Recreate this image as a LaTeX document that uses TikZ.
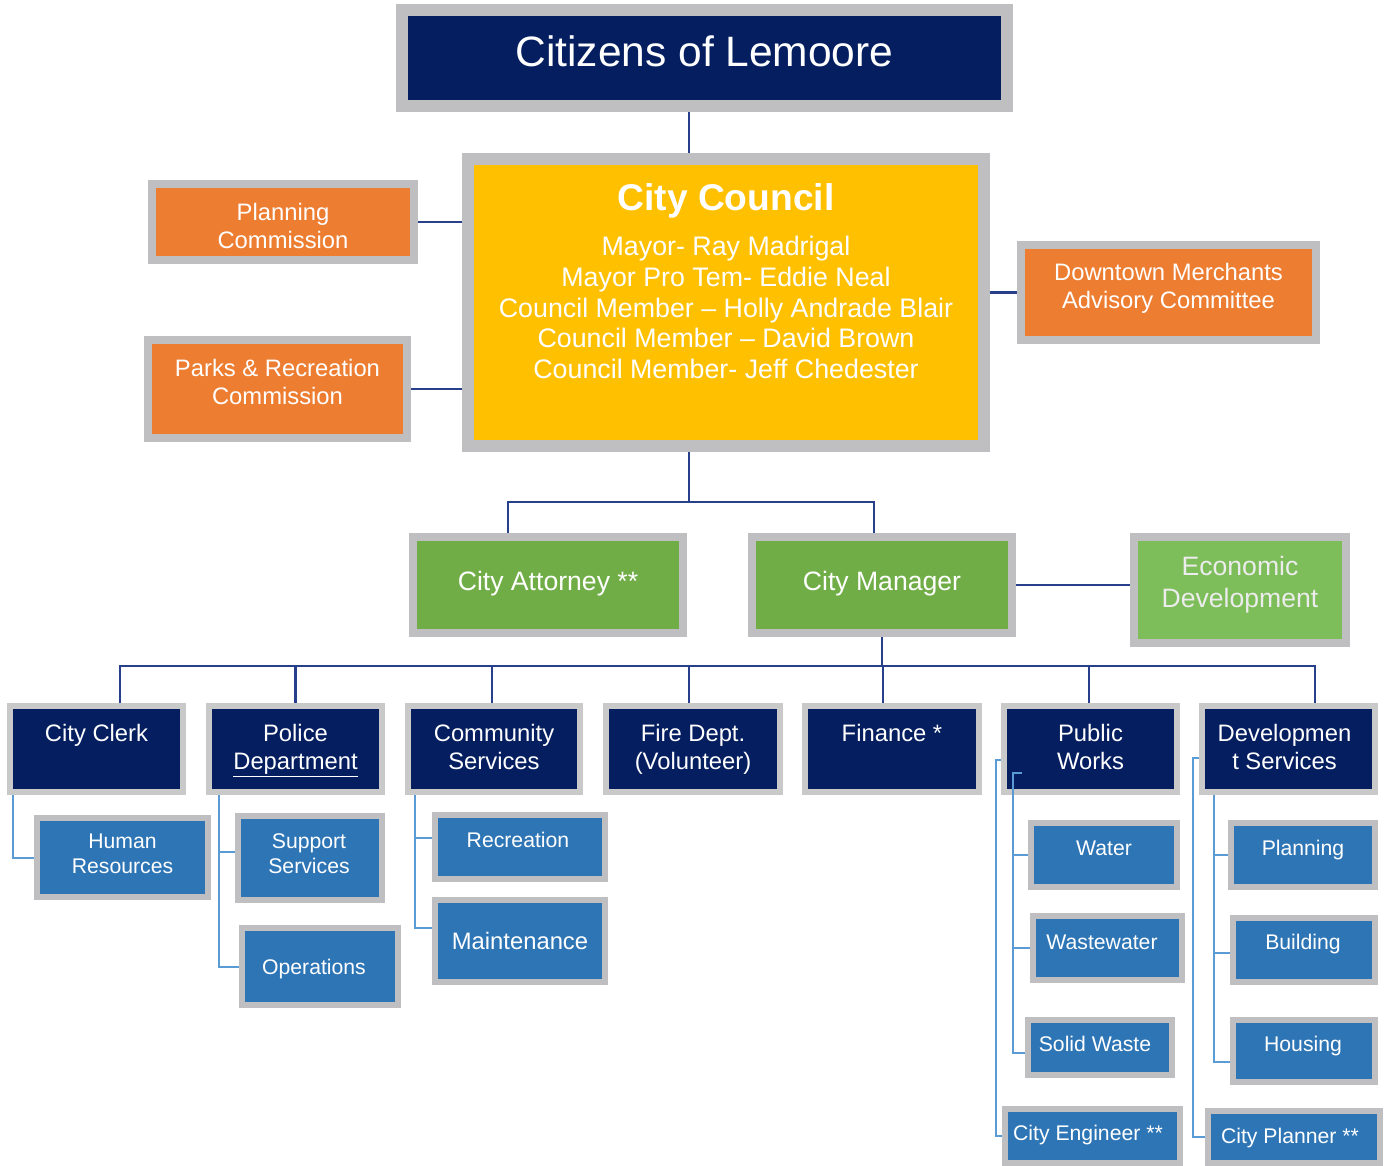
\documentclass[tikz,border=0pt]{standalone}
\usepackage{fontspec}
\setmainfont{Liberation Sans}
\usetikzlibrary{calc}
\definecolor{frame}{RGB}{191,191,193}
\definecolor{navy}{RGB}{4,30,96}
\definecolor{gold}{RGB}{255,192,0}
\definecolor{orng}{RGB}{237,125,49}
\definecolor{grn}{RGB}{112,173,71}
\definecolor{lgrn}{RGB}{125,190,90}
\definecolor{mblue}{RGB}{46,117,182}
\definecolor{lineblue}{RGB}{40,64,140}
\definecolor{sublineblue}{RGB}{91,155,213}
\definecolor{paletext}{RGB}{236,236,236}
\newcommand\obox[9]{\node[box,#1,sz={#5}{#6}{#7},label={[#8]center:{#9}}] (#2) at (#3,#4) {};}
\begin{document}
\begin{tikzpicture}[x=0.5pt,y=-0.5pt,
  box/.style={draw=frame, inner sep=0pt, text=white},
  sz/.style n args={3}{line width=#3*0.5pt, minimum width=(#1-#3)*0.5pt, minimum height=(#2-#3)*0.5pt},
  lt/.style={text=white, align=center, inner sep=0pt},
  comf/.style={lt, font=\fontsize{11.9}{14}\selectfont},
  rowf/.style={lt, font=\fontsize{11.9}{14}\selectfont},
  subf/.style={lt, font=\fontsize{10.6}{12.5}\selectfont},
  mainline/.style={draw=lineblue, line width=1.3pt},
  subline/.style={draw=sublineblue, line width=1pt},
  rowbox/.style={fill=navy, draw=frame!85!white},
  subbox/.style={fill=mblue}
]
\useasboundingbox[fill=white] (0,0) rectangle (1388,1166);
\coordinate (stem) at (689,0);

% top level
\obox{fill=navy}{citizens}{704.5}{58}{617}{108}{12}{lt, font=\fontsize{21.25}{25}\selectfont, yshift=3.5pt}{Citizens of Lemoore}
\node[box, fill=gold, sz={528}{299}{12},
  label={[lt, font=\bfseries\fontsize{18.6}{22}\selectfont, yshift=51pt]center:City Council},
  label={[lt, font=\fontsize{13.4}{15.4}\selectfont, yshift=-2.5pt]center:{Mayor- Ray Madrigal\\Mayor Pro Tem- Eddie Neal\\Council Member – Holly Andrade Blair\\Council Member – David Brown\\Council Member- Jeff Chedester}}]
  (council) at (726,302.5) {};

\obox{fill=orng}{plan}{283}{222}{270}{84}{8}{comf, yshift=-2pt}{Planning\\Commission}
\obox{fill=orng}{parks}{277.5}{389}{267}{106}{8}{comf, yshift=3.5pt}{Parks \& Recreation\\Commission}
\obox{fill=orng}{downtown}{1168.5}{292.5}{303}{103}{8}{comf, yshift=2pt}{Downtown Merchants\\Advisory Committee}

\obox{fill=grn}{attorney}{548}{585}{278}{104}{8}{lt, font=\fontsize{13.3}{16}\selectfont, yshift=0.5pt}{City Attorney **}
\obox{fill=grn}{manager}{882}{585}{268}{104}{8}{lt, font=\fontsize{13.3}{16}\selectfont, yshift=0.5pt}{City Manager}
\obox{fill=lgrn}{econ}{1240}{590}{220}{114}{8}{lt, text=paletext, font=\fontsize{13.3}{16}\selectfont, yshift=2.5pt}{Economic\\Development}

% department row
\obox{rowbox}{clerk}{96.5}{749}{179}{92}{6}{rowf, yshift=7pt}{City Clerk}
\obox{rowbox}{police}{295.5}{749}{179}{92}{6}{rowf, yshift=-1pt}{Police\\\underline{Department}}
\obox{rowbox}{cs}{494}{749}{178}{92}{6}{rowf, yshift=1pt}{Community\\Services}
\obox{rowbox}{fire}{693}{749}{180}{92}{6}{rowf, yshift=0pt}{Fire Dept.\\(Volunteer)}
\obox{rowbox}{finance}{892}{749}{180}{92}{6}{rowf, yshift=8pt}{Finance *}
\obox{rowbox}{pw}{1090.5}{749}{179}{92}{6}{rowf, yshift=1pt}{Public\\Works}
\obox{rowbox}{ds}{1288.5}{749}{179}{92}{6}{rowf, yshift=1pt, xshift=-2pt}{Developmen\\t Services}

% sub units
\obox{subbox}{hr}{122.5}{857.5}{177}{85}{6}{subf, yshift=2pt}{Human\\Resources}
\obox{subbox}{support}{310}{858}{150}{90}{6}{subf, yshift=2.25pt, xshift=-0.5pt}{Support\\Services}
\obox{subbox}{ops}{320}{966.5}{162}{83}{6}{subf, xshift=-3pt, yshift=-1.5pt}{Operations}
\obox{subbox}{rec}{520}{847}{176}{70}{6}{subf, yshift=3.5pt, xshift=-1pt}{Recreation}
\obox{subbox}{maint}{520}{941}{176}{88}{6}{lt, font=\fontsize{11.9}{14}\selectfont}{Maintenance}
\obox{subbox}{water}{1104}{855}{152}{70}{6}{subf, yshift=3.5pt}{Water}
\obox{subbox}{waste}{1107.5}{948}{155}{70}{6}{subf, yshift=3pt, xshift=-2.75pt}{Wastewater}
\obox{subbox}{solid}{1100}{1047.5}{150}{61}{6}{subf, yshift=1.75pt, xshift=-2.5pt}{Solid Waste}
\obox{subbox}{engineer}{1092.5}{1136}{181}{60}{6}{subf, yshift=0.5pt, xshift=-2.25pt}{City Engineer **}
\obox{subbox}{planning}{1303}{855}{150}{70}{6}{subf, yshift=2.5pt}{Planning}
\obox{subbox}{building}{1304}{950}{148}{70}{6}{subf, yshift=3pt, xshift=-0.5pt}{Building}
\obox{subbox}{housing}{1304}{1051}{148}{68}{6}{subf, yshift=2.5pt, xshift=-0.5pt}{Housing}
\obox{subbox}{planner}{1294}{1137}{178}{58}{6}{subf, xshift=-2pt, yshift=-0.5pt}{City Planner **}

% main connectors
\draw[mainline] (citizens.south -| stem) -- (council.north -| stem);
\draw[mainline] (plan.east) -- (plan.east -| council.west);
\draw[mainline] (parks.east) -- (parks.east -| council.west);
\draw[mainline] (council.east |- downtown.west) -- (downtown.west);
\draw[mainline] (council.south -| stem) -- ++(0,50) coordinate (j);
\draw[mainline] ($(attorney.north)+(-40,0)$) |- (j) -| ($(manager.north)+(-8,0)$);
\draw[mainline] (manager.east) -- (manager.east -| econ.west);
\coordinate (busL) at (120,666);
\coordinate (busR) at (1315,666);
\draw[mainline] (manager.south) -- (manager.south |- busL);
\draw[mainline] (clerk.north -| busL) |- (busR) -- (ds.north -| busR);
\foreach \n/\d in {police/0, cs/-2, fire/-4, finance/-9, pw/-1.5}
  \draw[mainline] ($(\n.north)+(\d,0)$) -- ($(\n.north |- busL)+(\d,0)$);

% sub connectors
\draw[subline] ($(clerk.south west)+(6,0)$) |- (hr.west);
\draw[subline] ($(police.south west)+(13,0)$) |- (ops.west);
\draw[subline] ($(support.west)+(0,-6)$) -- ++(-16,0);
\draw[subline] ($(cs.south west)+(10,0)$) |- ($(maint.west)+(0,-13)$);
\draw[subline] ($(rec.west)+(0,-9)$) -- ++(-17,0);
\draw[subline] ($(pw.south west)+(21,-22)$) -| ($(pw.south west)+(12,0)$) |- ($(solid.west)+(0,5)$);
\draw[subline] (water.west) -- ++(-15,0);
\draw[subline] (waste.west) -- ++(-17,0);
\draw[subline] ($(pw.west)+(0,11)$) -- ++(-5,0) |- (engineer.west);
\draw[subline] ($(ds.south west)+(15,0)$) |- ($(housing.west)+(0,11)$);
\draw[subline] (planning.west) -- ++(-14,0);
\draw[subline] ($(building.west)+(0,3)$) -- ++(-16,0);
\draw[subline] ($(ds.west)+(0,9)$) -- ++(-6,0) |- (planner.west);
\end{tikzpicture}
\end{document}
